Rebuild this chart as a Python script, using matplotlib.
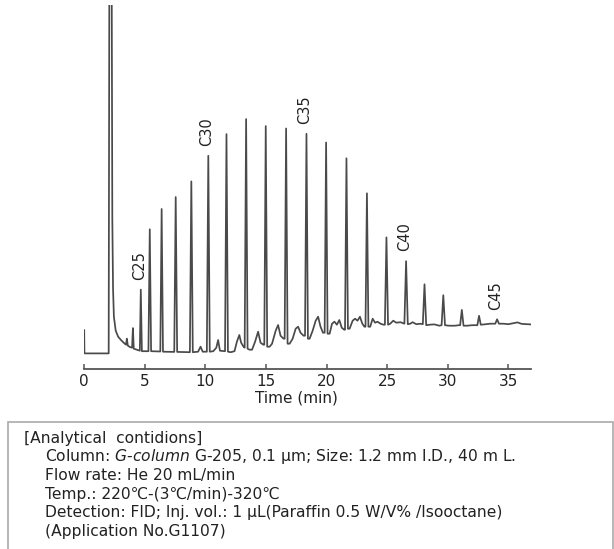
import matplotlib
matplotlib.use("Agg")
import matplotlib.pyplot as plt
from matplotlib.patches import Rectangle

plt.rcParams["font.family"] = ["DejaVu Sans", "Noto Sans CJK JP"]

# ── Data ───────────────────────────────────────────────────────────────────
# retention time (min) / detector signal (arb. units) vertices of the trace
TIME_MIN = [
    0.00, 0.02, 2.02, 2.08, 2.26, 2.32, 2.38, 2.45, 2.60, 2.80, 3.05, 3.30,
    3.45, 3.52, 3.60, 3.80, 3.95, 4.02, 4.09, 4.35, 4.59, 4.67, 4.76, 5.30,
    5.41, 5.52, 6.28, 6.39, 6.50, 7.43, 7.55, 7.67, 8.72, 8.84, 8.96, 9.40,
    9.60, 9.78, 10.12, 10.24, 10.36, 10.65, 10.90, 11.05, 11.20, 11.62, 11.74,
    11.86, 12.10, 12.40, 12.60, 12.80, 12.95, 13.15, 13.24, 13.36, 13.48,
    13.65, 13.85, 14.10, 14.35, 14.55, 14.78, 14.86, 14.98, 15.10, 15.30,
    15.50, 15.80, 16.00, 16.20, 16.45, 16.54, 16.66, 16.78, 16.95, 17.20,
    17.45, 17.65, 17.85, 18.10, 18.22, 18.34, 18.46, 18.60, 18.85, 19.10,
    19.30, 19.50, 19.70, 19.84, 19.96, 20.08, 20.25, 20.45, 20.65, 20.85,
    21.05, 21.25, 21.45, 21.52, 21.64, 21.76, 21.90, 22.15, 22.35, 22.55,
    22.75, 22.95, 23.12, 23.21, 23.33, 23.45, 23.60, 23.80, 24.00, 24.20,
    24.45, 24.70, 24.81, 24.94, 25.07, 25.25, 25.50, 25.75, 26.10, 26.42,
    26.56, 26.70, 26.90, 27.10, 27.40, 27.75, 27.94, 28.08, 28.22, 28.50,
    28.90, 29.30, 29.49, 29.63, 29.77, 30.10, 30.60, 30.90, 31.02, 31.16,
    31.30, 31.60, 32.00, 32.44, 32.58, 32.72, 33.00, 33.50, 33.92, 34.07,
    34.22, 34.60, 35.00, 35.40, 35.75, 36.10, 36.50, 36.85,
]
SIGNAL = [
    38.5, 15.3, 15.3, 430.0, 430.0, 150.0, 80.0, 52.0, 38.0, 32.0, 28.5, 25.5,
    24.0, 30.0, 23.0, 21.5, 21.0, 40.6, 20.0, 19.0, 18.0, 79.1, 17.5, 17.5,
    139.4, 17.5, 17.2, 159.7, 17.0, 16.8, 171.6, 16.8, 16.5, 187.3, 16.5, 17.0,
    22.0, 17.0, 17.0, 212.9, 17.0, 17.5, 21.0, 28.7, 18.0, 17.5, 234.6,
    17.0, 16.5, 17.5, 27.0, 33.7, 26.0, 22.0, 21.0, 249.6, 20.0,
    19.0, 19.0, 27.0, 37.0, 26.0, 24.0, 24.0, 242.6, 22.0, 22.0,
    25.0, 38.0, 43.7, 33.0, 30.0, 30.0, 240.2, 25.0, 25.0, 30.0,
    40.0, 42.0, 36.0, 33.0, 33.0, 234.9, 30.0, 30.0, 38.0, 48.0,
    52.0, 42.0, 36.0, 36.0, 226.2, 35.0, 35.0, 45.0, 47.0, 44.0,
    48.7, 41.0, 39.0, 39.0, 210.4, 40.0, 40.0, 48.0, 50.0, 48.0,
    52.0, 45.0, 42.0, 42.0, 175.4, 42.0, 42.0, 50.0, 46.0, 47.0,
    45.0, 44.0, 44.0, 131.3, 44.0, 45.0, 48.0, 46.0, 46.5, 45.0,
    107.5, 44.5, 45.0, 46.5, 44.5, 45.0, 44.5, 84.4, 43.5, 44.0,
    44.3, 43.0, 43.5, 73.5, 43.5, 43.0, 43.0, 43.5, 43.5, 58.8,
    43.0, 43.0, 43.5, 43.5, 52.9, 44.0, 44.3, 45.0, 45.0, 49.4,
    45.0, 45.0, 44.5, 45.5, 46.3, 44.8, 44.5, 44.3,
]

PEAK_LABELS = ["C25", "C30", "C35", "C40", "C45"]
PEAK_TIMES = [4.67, 10.24, 18.34, 26.56, 34.07]
PEAK_HEIGHTS = [79.1, 212.9, 234.9, 107.5, 49.4]

X_TICKS = [0, 5, 10, 15, 20, 25, 30, 35]
X_LABEL = "Time (min)"

CONDITIONS_TITLE = "[Analytical  contidions]"
CONDITIONS = [
    "Column: $\\mathit{G}$-$\\mathit{column}$ G-205, 0.1 µm; Size: 1.2 mm I.D., 40 m L.",
    "Flow rate: He 20 mL/min",
    "Temp.: 220℃-(3℃/min)-320℃",
    "Detection: FID; Inj. vol.: 1 µL(Paraffin 0.5 W/V% /Isooctane)",
    "(Application No.G1107)",
]

# ── Figure ─────────────────────────────────────────────────────────────────
W, H = 614, 549
fig = plt.figure(figsize=(W / 100, H / 100), dpi=100)

ax_left, ax_right = 84.2, 531.4
ax_bottom_px, ax_top_px = 368.7, 5.0
ax = fig.add_axes([ax_left / W, 1 - ax_bottom_px / H,
                   (ax_right - ax_left) / W, (ax_bottom_px - ax_top_px) / H])

TRACE_COLOR = "#4a4a4a"
TEXT_COLOR = "#222222"

ax.plot(TIME_MIN, SIGNAL, color=TRACE_COLOR, lw=1.25, solid_joinstyle="round")

for name, t, h in zip(PEAK_LABELS, PEAK_TIMES, PEAK_HEIGHTS):
    ax.annotate(name, xy=(t, h), xytext=(-1.2, 7), textcoords="offset points",
                rotation=90, ha="center", va="bottom", fontsize=10.5,
                color=TEXT_COLOR)

ax.set_xlim(0, 36.9)
ax.set_ylim(0, ax_bottom_px - ax_top_px)

for side in ("top", "right", "left"):
    ax.spines[side].set_visible(False)
ax.spines["bottom"].set_color("#555555")
ax.spines["bottom"].set_linewidth(1.3)
ax.set_yticks([])
ax.set_xticks(X_TICKS)
ax.tick_params(axis="x", direction="in", length=3.5, width=1.1,
               color="#555555", labelsize=11, labelcolor=TEXT_COLOR, pad=4)
ax.set_xlabel(X_LABEL, fontsize=11, color=TEXT_COLOR, labelpad=1)
ax.xaxis.label.set_x(17.5 / 36.9)

# conditions box (bottom edge runs off the image)
box_top = 422.0
fig.patches.append(Rectangle((8.4 / W, -0.05), (613 - 8.4) / W,
                             (H - box_top) / H + 0.05,
                             transform=fig.transFigure, fill=False,
                             edgecolor="#aaaaaa", linewidth=1.2))

fig.text(24.5 / W, 1 - 438 / H, CONDITIONS_TITLE, fontsize=11.2,
         color=TEXT_COLOR, ha="left", va="center")
for i, line in enumerate(CONDITIONS):
    y = 457 + i * 18.6
    fig.text(45 / W, 1 - y / H, line, fontsize=11.2, color=TEXT_COLOR,
             ha="left", va="center")

fig.savefig("out.png", dpi=100, facecolor="white")
